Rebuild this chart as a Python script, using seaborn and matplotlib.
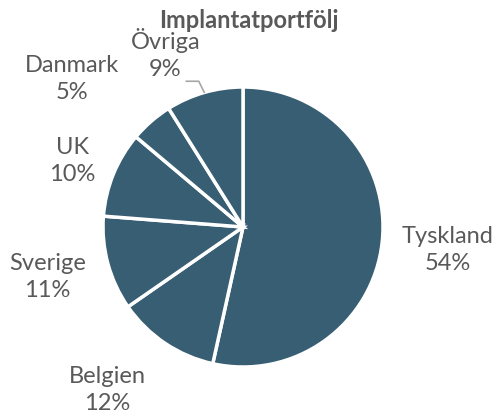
import matplotlib.pyplot as plt
import numpy as np
import seaborn as sns

labels = ['Tyskland', 'Belgien', 'Sverige', 'UK', 'Danmark', 'Övriga']
shares = [54, 12, 11, 10, 5, 9]
# how far out each label sits (in pie radii)
label_r = [1.47, 1.51, 1.44, 1.31, 1.62, 1.36]
label_shift = [0, -6, -1, 1, 8, 8]   # degrees

sns.set_theme(style='white')
plt.rcParams['font.family'] = ['Lato', 'DejaVu Sans']

fig = plt.figure(figsize=(4.97, 4.14), dpi=100)
ax = fig.add_axes([0, 0, 1, 1])

col = '#375E72'
wedges, _ = ax.pie(shares, startangle=90, counterclock=False, colors=[col] * len(shares),
                   radius=1, wedgeprops=dict(edgecolor='white', linewidth=2.5))

txt = '#595959'
for w, lab, v, r, sh in zip(wedges, labels, shares, label_r, label_shift):
    mid = np.deg2rad((w.theta1 + w.theta2) / 2 + sh)
    ax.text(r * np.cos(mid), r * np.sin(mid), f'{lab}\n{v}%', ha='center', va='center',
            fontsize=17, color=txt, linespacing=1.35)

# leader line for Övriga
w = wedges[-1]
mid = np.deg2rad((w.theta1 + w.theta2) / 2)
ex, ey = np.cos(mid), np.sin(mid)
ax.plot([ex, ex - 0.04, ex - 0.13], [ey, ey + 0.08, ey + 0.08], color='#A6A6A6', lw=1.2)

fig.text(0.5, 0.95, 'Implantatportfölj', ha='center', va='center', fontsize=17,
         fontweight='bold', color=txt)

ax.set_aspect('equal')
ax.set_xlim(-243 / 140, 254 / 140)
ax.set_ylim(-186 / 140, 228 / 140)
ax.axis('off')

fig.savefig('out.png', dpi=100)
